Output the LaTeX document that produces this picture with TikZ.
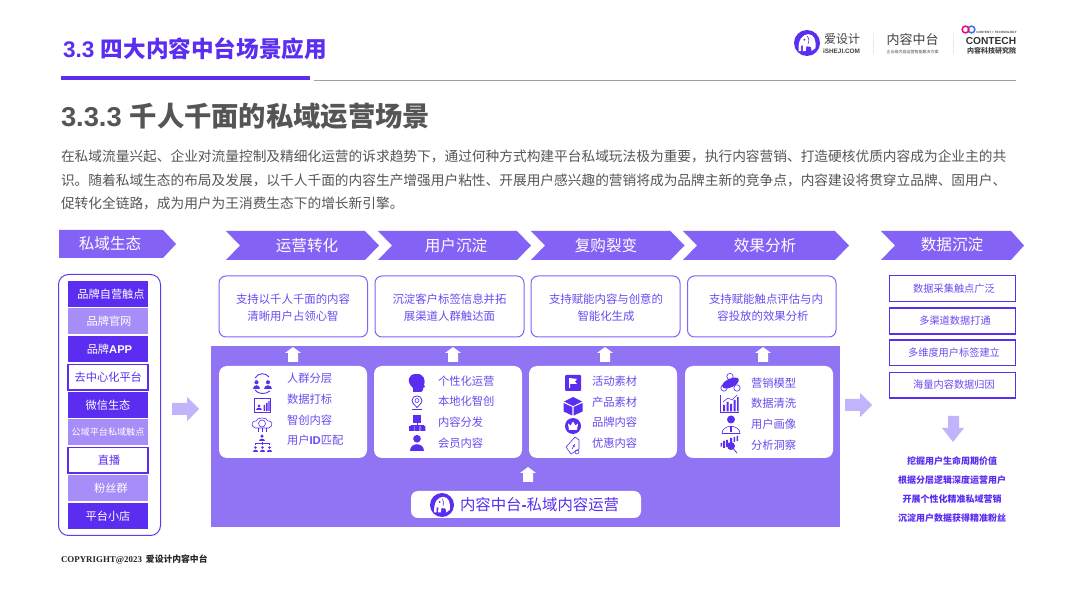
\documentclass[tikz,border=0pt]{standalone}
\usepackage{fontspec}
\setmainfont{Noto Sans CJK SC}
\newfontfamily\latinb{Liberation Sans}[BoldFont={Liberation Sans Bold}]
\newfontfamily\serifb{Liberation Serif}[BoldFont={Liberation Serif Bold}]
\definecolor{deep}{HTML}{5A2DF0}
\definecolor{mid}{HTML}{8562F6}
\definecolor{panel}{HTML}{9074F4}
\definecolor{light}{HTML}{A68DF8}
\definecolor{pale}{HTML}{C2B3FA}
\definecolor{txt}{HTML}{6C4AF0}
\definecolor{grey}{HTML}{555555}
\newcommand{\fs}[1]{\fontsize{#1}{#1}\selectfont}
\tikzset{
  x=1pt,y=-1pt,
  lbl/.style={inner sep=0pt,outer sep=0pt,anchor=center},
  lft/.style={inner sep=0pt,outer sep=0pt,anchor=west},
  head/.style={lbl,text=white,font=\fs{15.6}},
  item/.style={lft,text=txt,font=\fs{11.3}},
  listlbl/.style={lbl,font=\fs{11.2}},
  pagebox/.style={draw=mid,line width=1pt,rounded corners=7pt,fill=white},
  card/.style={fill=white,rounded corners=8pt},
  databox/.style={draw=deep,line width=1.4pt,fill=white},
  icl/.style={draw=deep,line width=.6pt,fill=none},
}
\newcommand{\chev}[2]{\fill[mid] (#1,231) -- (#2-14,231) -- (#2,245.5) -- (#2-14,260) -- (#1,260) -- (#1+14,245.5) -- cycle;}
\newcommand{\uparr}[3]{\fill[#3] (#1-8,#2+6) -- (#1,#2) -- (#1+8,#2+6) -- (#1+5,#2+6) -- (#1+5,#2+15) -- (#1-5,#2+15) -- (#1-5,#2+6) -- cycle;}
\newcommand{\rtarr}[3]{\fill[pale] (#1,#2-6) -- (#1+15,#2-6) -- (#1+15,#2-12) -- (#1+27,#2) -- (#1+15,#2+12) -- (#1+15,#2+6) -- (#1,#2+6) -- cycle;}
\newcommand{\person}[3]{\begin{scope}[shift={(#1,#2)},scale=#3]
  \fill[deep] (0,-.5) circle (.45);
  \fill[deep] (-.85,.9) .. controls (-.85,-.1) and (.85,-.1) .. (.85,.9) -- cycle;
\end{scope}}
\newcommand{\elephant}[4]{\begin{scope}[shift={(#1,#2)},scale=#3]
  \fill[#4] (0,0) circle (1);
  \fill[white] (-.65,.62) .. controls (-.72,-.3) and (-.3,-.68) .. (.1,-.68) .. controls (.55,-.68) and (.72,-.2) .. (.65,.4) -- (.36,.62) -- (.3,.3) -- (-.05,.25) -- (-.1,.62) -- (-.33,.62) -- (-.3,.2) -- (-.45,.2) -- (-.45,.62) -- cycle;
  \draw[#4,line width=.045*#3 pt] (.02,-.52) .. controls (.18,-.3) and (.18,-.1) .. (.08,.08);
  \fill[#4] (-.2,-.25) circle (.08);
\end{scope}}
\begin{document}
\begin{tikzpicture}
\useasboundingbox (0,0) rectangle (1080,601);
\fill[white] (0,0) rectangle (1080,601);
% header
\node[lft,text=deep,font=\fs{22.6}\bfseries] (title) at (63,49) {{\latinb\bfseries 3.3}\hspace{6.5pt}四大内容中台场景应用};
\fill[deep] (61,76) rectangle (310,80.5);
\fill[gray!75] (314,79.6) rectangle (1016,80.5);
\node[lft,text=grey,font=\fs{27.3}\bfseries] (sub) at (61,116) {{\latinb\bfseries 3.3.3}\hspace{8pt}千人千面的私域运营场景};
\node[lft,text=grey,font=\fs{13.7}] (p1) at (61,156) {在私域流量兴起、企业对流量控制及精细化运营的诉求趋势下，通过何种方式构建平台私域玩法极为重要，执行内容营销、打造硬核优质内容成为企业主的共};
\node[lft,text=grey,font=\fs{13.7}] (p2) at (61,180) {识。随着私域生态的布局及发展，以千人千面的内容生产增强用户粘性、开展用户感兴趣的营销将成为品牌主新的竞争点，内容建设将贯穿立品牌、固用户、};
\node[lft,text=grey,font=\fs{13.7}] (p3) at (61,203) {促转化全链路，成为用户为王消费生态下的增长新引擎。};
% logos
\elephant{807}{43}{13}{deep}
\node[lbl,text=black!75,font=\fs{12}] (lg1) at (842,39) {爱设计};
\node[lbl,text=black!75,font=\latinb\fs{6.4}\bfseries] (lg2) at (841.5,51) {iSHEJI.COM};
\fill[gray!25] (873,33) rectangle (873.6,54) (953,33) rectangle (953.6,54);
\node[lbl,text=black!75,font=\fs{13}] (lg3) at (912.5,40) {内容中台};
\node[lbl,text=black!70,font=\fs{4}] (lg4) at (912.5,52) {企业级内容运营智能解决方案};
\draw[line width=1.5pt,color=deep!70!cyan] (971.5,29.5) circle (3.4);
\draw[line width=1.5pt,color=magenta!70!red] (965.5,29.5) circle (3.4);
\node[lbl,text=black!70,font=\latinb\fs{3.1}\bfseries] (lg5) at (996.5,32) {CONTENT + TECHNOLOGY};
\node[lbl,text=black!80,font=\latinb\fs{10.2}\bfseries] (lg6) at (991,41) {CONTECH};
\node[lbl,text=black!75,font=\fs{7}\bfseries] (lg7) at (991.5,51) {内容科技研究院};
% left column
\fill[mid] (59,230) -- (163,230) -- (176,244) -- (163,258) -- (59,258) -- cycle;
\node[head] (h0) at (110,244) {私域生态};
\draw[pagebox,draw=deep!80!mid,rounded corners=10pt] (58.5,274.5) rectangle (160.5,535.5);
\fill[deep] (68,281) rectangle (148,307);
\node[listlbl,text=white] (l1) at (111,294) {品牌自营触点};
\fill[light] (68,308.5) rectangle (148,334.5);
\node[listlbl,text=white] (l2) at (109,321.5) {品牌官网};
\fill[deep] (68,336) rectangle (148,362);
\node[listlbl,text=white] (l3) at (109.5,349) {品牌{\latinb\bfseries APP}};
\draw[databox] (68,364.5) rectangle (148,390);
\node[listlbl,text=deep] (l4) at (108.3,377) {去中心化平台};
\fill[deep] (68,392) rectangle (148,418);
\node[listlbl,text=white] (l5) at (108,405) {微信生态};
\fill[light] (68,419.5) rectangle (148,445.5);
\node[lbl,text=white,font=\fs{9.1}] (l6) at (108,432.5) {公域平台私域触点};
\draw[databox] (68,447.5) rectangle (148,473);
\node[listlbl,text=deep] (l7) at (109,460) {直播};
\fill[light] (68,475.5) rectangle (148,501);
\node[listlbl,text=white] (l8) at (111,488) {粉丝群};
\fill[deep] (68,503) rectangle (148,529);
\node[listlbl,text=white] (l9) at (108,516) {平台小店};
\rtarr{172}{409}{}
% chevrons
\chev{226}{379}\chev{378}{531}\chev{531}{684.5}\chev{683}{849}
\node[head] (h1) at (307,246) {运营转化};
\node[head] (h2) at (456,246) {用户沉淀};
\node[head] (h3) at (606,246) {复购裂变};
\node[head] (h4) at (765,246) {效果分析};
% top boxes
\draw[pagebox] (219,276) rectangle (367.5,337);
\draw[pagebox] (375,276) rectangle (524,337);
\draw[pagebox] (531,276) rectangle (680,337);
\draw[pagebox] (687.5,276) rectangle (836,337);
\tikzset{boxt/.style={lbl,text=txt,font=\fs{11.4}}}
\node[boxt] (b1a) at (293,299) {支持以千人千面的内容};
\node[boxt] (b1b) at (293,316) {清晰用户占领心智};
\node[boxt] (b2a) at (449.5,299) {沉淀客户标签信息并拓};
\node[boxt] (b2b) at (449.5,316) {展渠道人群触达面};
\node[boxt] (b3a) at (606,299) {支持赋能内容与创意的};
\node[boxt] (b3b) at (606,316) {智能化生成};
\node[boxt] (b4a) at (766,299) {支持赋能触点评估与内};
\node[boxt] (b4b) at (763,316) {容投放的效果分析};
% panel
\fill[panel] (211,346) rectangle (840,527);
\uparr{293}{347}{white}\uparr{453}{347}{white}\uparr{605}{347}{white}\uparr{763}{347}{white}
\fill[card] (219,366) rectangle (367,458);
\fill[card] (374,366) rectangle (522,458);
\fill[card] (529,366) rectangle (677,458);
\fill[card] (685,366) rectangle (833,458);
% card 1
\node[item] (c11) at (287,378) {人群分层};
\node[item] (c12) at (287,399) {数据打标};
\node[item] (c13) at (287,420) {智创内容};
\node[item] (c14) at (287,440) {用户{\latinb\bfseries ID}匹配};
\person{256.5}{384.5}{4.5}\person{268}{384.5}{4.5}
\draw[icl,line width=.9pt] (255,378) .. controls (258,372.5) and (266,372.5) .. (269,377);
\draw[icl,line width=.9pt] (255,390) .. controls (258,394.5) and (266,394.5) .. (270,391);
\draw[icl] (254,398.5) rectangle (270.5,412.5);
\person{259}{407.5}{3.2}
\fill[deep] (263.5,405) rectangle (265,411) (266,403) rectangle (267.5,411) (268.3,401) rectangle (269.6,411);
\draw[icl] (255,428) .. controls (250,426) and (252,420) .. (256,421) .. controls (257,417) and (267,417) .. (268,421) .. controls (272,420) and (274,426) .. (269,428) -- cycle;
\draw[icl] (262,423.5) circle (3.5);
\draw[icl] (258,428) -- (258,432) (262,428) -- (262,432) (266,428) -- (266,432);
\person{262}{438}{3.8}
\person{255.5}{449}{3}\person{262.5}{449}{3}\person{269.5}{449}{3}
\draw[icl] (255.5,445) -- (255.5,443.5) -- (269.5,443.5) -- (269.5,445) (262.5,442) -- (262.5,445);
% card 2
\node[item] (c21) at (438,381) {个性化运营};
\node[item] (c22) at (438,401) {本地化智创};
\node[item] (c23) at (438,422) {内容分发};
\node[item] (c24) at (438,443) {会员内容};
\fill[deep] (413,392) -- (413,388) .. controls (406,382) and (408,374) .. (416,374) .. controls (424,373) and (426,381) .. (424,385) -- (425,387) -- (423,388) -- (423,390) -- (421,392) -- cycle;
\draw[icl,line width=.8pt] (417,407.5) .. controls (413,403) and (412,403) .. (412,400.5) .. controls (412,394.5) and (422,394.5) .. (422,400.5) .. controls (422,403) and (421,403) .. (417,407.5) -- cycle;
\draw[icl] (417,400.5) circle (2);
\draw[icl,line width=.9pt] (412,409.8) -- (422,409.8);
\fill[deep] (413,415) rectangle (421,423);
\draw[icl] (417,423) -- (417,425) (411,426) -- (411,425) -- (423,425) -- (423,426);
\fill[deep] (409,426) rectangle (414,431) (414.7,426) rectangle (419.7,431) (420.4,426) rectangle (425.4,431);
\person{417}{443}{8.5}
% card 3
\node[item] (c31) at (592,381) {活动素材};
\node[item] (c32) at (592,402) {产品素材};
\node[item] (c33) at (592,422) {品牌内容};
\node[item] (c34) at (592,443) {优惠内容};
\fill[deep,rounded corners=1pt] (565,375) rectangle (581,391);
\fill[white] (569,378) -- (577,379) -- (575,381.5) -- (577,384) -- (570,384) -- (570,388) -- (569,388) -- cycle;
\fill[deep] (573,397) -- (582,401.5) -- (573,406) -- (564,401.5) -- cycle;
\fill[deep] (563.5,403) -- (572.3,407) -- (572.3,415.5) -- (563.5,411.5) -- cycle;
\fill[deep] (582.5,403) -- (573.7,407) -- (573.7,415.5) -- (582.5,411.5) -- cycle;
\fill[deep] (573,426) circle (8);
\fill[white] (568,423.5) -- (570.5,425.5) -- (573,421.5) -- (575.5,425.5) -- (578,423.5) -- (577,430) -- (569,430) -- cycle;
\draw[icl,line join=round] (575,437) -- (566,447) -- (571,454) -- (579,449) -- (579,440) -- (575,437) -- cycle;
\draw[icl] (577,452) circle (2);
\draw[icl] (573,445) -- (575,447) (575,444) -- (572,449);
% card 4
\node[item] (c41) at (751,383) {营销模型};
\node[item] (c42) at (751,403) {数据清洗};
\node[item] (c43) at (751,424) {用户画像};
\node[item] (c44) at (751,445) {分析洞察};
\draw[icl] (730,376.5) circle (3.2) (724,388) circle (3.2) (737,388) circle (3.2);
\fill[deep,rotate around={25:(730.5,383)}] (730.5,383) ellipse (9 and 4.3);
\draw[icl] (720.5,395) -- (720.5,412.5) -- (739,412.5);
\fill[deep] (723,405) rectangle (725,411.5) (726.5,402) rectangle (728.5,411.5) (730,404) rectangle (732,411.5) (733.5,400) rectangle (735.5,411.5) (737,397) rectangle (738.5,411.5);
\draw[icl] (723,402) -- (728,398) -- (732,400) -- (737,395);
\fill[deep] (731,419.5) circle (4);
\draw[icl] (722,433.5) .. controls (722,424) and (740,424) .. (740,433.5) -- cycle;
\fill[deep] (730.2,426) rectangle (731.8,432);
\fill[deep] (720.5,447) -- (722,446) -- (722,443) -- (720.5,443) -- cycle;
\fill[deep] (723,441) rectangle (725,448) (726,440) rectangle (728,447) (730,438) rectangle (732,443) (733.5,437) rectangle (735,442) (736.5,436) rectangle (738,441);
\fill[deep] (731,446) circle (4);
\draw[icl,line width=.8pt] (733.5,449) -- (737,453);
% bottom
\uparr{528}{467}{white}
\fill[white,rounded corners=7pt] (411,491) rectangle (641,518);
\elephant{442}{505}{12}{deep}
\node[lft,text=deep,font=\fs{15.4}] (midt) at (460,505) {内容中台{\latinb\bfseries -}私域内容运营};
% right
\rtarr{845}{405}{}
\fill[mid] (881,231) -- (1011,231) -- (1024,245.5) -- (1011,260) -- (881,260) -- (895,245.5) -- cycle;
\node[head] (h5) at (952,245) {数据沉淀};
\tikzset{dbt/.style={lbl,text=txt,font=\fs{10.2}}}
\draw[databox] (889.5,275.5) rectangle (1015.5,301.5);
\draw[databox] (889.5,308) rectangle (1015.5,334);
\draw[databox] (889.5,340) rectangle (1015.5,365.5);
\draw[databox] (889.5,372.5) rectangle (1015.5,398);
\node[dbt] (d1) at (954,288.5) {数据采集触点广泛};
\node[dbt] (d2) at (955,321) {多渠道数据打通};
\node[dbt] (d3) at (954,353) {多维度用户标签建立};
\node[dbt] (d4) at (954,385) {海量内容数据归因};
\fill[pale] (948,416) rectangle (959,428) (942,428) -- (964,428) -- (953,442) -- cycle;
\tikzset{vt/.style={lbl,text=deep,font=\fs{9}\bfseries}}
\node[vt] (v1) at (952,461) {挖掘用户生命周期价值};
\node[vt] (v2) at (952,480) {根据分层逻辑深度运营用户};
\node[vt] (v3) at (952,499) {开展个性化精准私域营销};
\node[vt] (v4) at (952,518) {沉淀用户数据获得精准粉丝};
\node[lft,text=black!85,font=\fs{8.8}] (copy) at (61,559) {{\serifb\bfseries\fs{8.9}COPYRIGHT@2023}\hspace{4pt}{\bfseries 爱设计内容中台}};
\end{tikzpicture}
\end{document}
